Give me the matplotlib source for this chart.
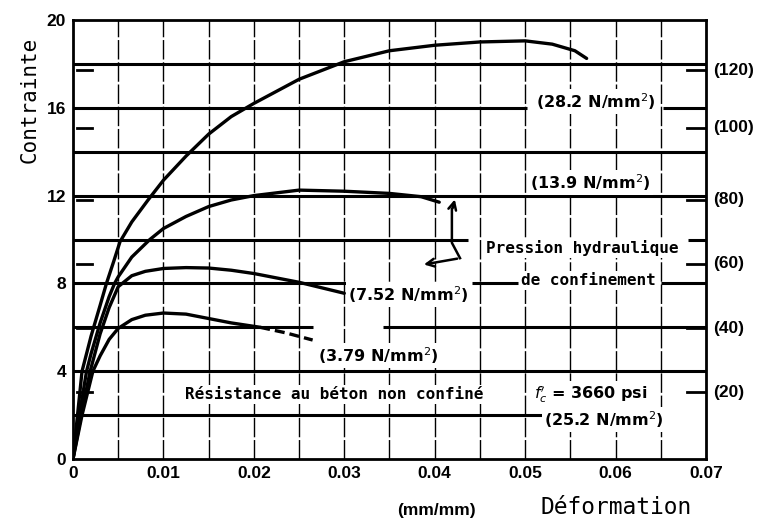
import matplotlib
matplotlib.use("Agg")
import matplotlib.pyplot as plt
from matplotlib.transforms import blended_transform_factory

# ---------------- data ----------------
strain_a = [0, 0.0005, 0.001, 0.002, 0.003, 0.0037, 0.0045, 0.0052, 0.0065, 0.0083,
            0.01, 0.0125, 0.015, 0.0175, 0.02, 0.025, 0.03, 0.035, 0.04, 0.045,
            0.05, 0.053, 0.0555, 0.0568]
stress_a = [0, 2.0, 4.0, 5.6, 7.0, 8.0, 9.0, 9.9, 10.8, 11.8,
            12.7, 13.8, 14.8, 15.6, 16.2, 17.3, 18.1, 18.6, 18.85, 19.0,
            19.05, 18.9, 18.6, 18.25]

strain_b = [0, 0.0007, 0.0015, 0.002, 0.003, 0.004, 0.0046, 0.005, 0.0065, 0.0085,
            0.01, 0.0125, 0.015, 0.0175, 0.02, 0.025, 0.03, 0.035, 0.0385, 0.0405]
stress_b = [0, 2.0, 4.0, 4.8, 6.2, 7.4, 8.0, 8.3, 9.2, 10.0,
            10.5, 11.05, 11.5, 11.8, 12.0, 12.25, 12.2, 12.1, 11.95, 11.7]

strain_c = [0, 0.001, 0.0019, 0.003, 0.004, 0.005, 0.0065, 0.008, 0.01, 0.0125,
            0.015, 0.0175, 0.02, 0.025, 0.03]
stress_c = [0, 2.2, 4.0, 5.7, 6.9, 7.85, 8.35, 8.55, 8.68, 8.72,
            8.7, 8.6, 8.45, 8.05, 7.55]

strain_d = [0, 0.001, 0.0022, 0.003, 0.004, 0.005, 0.0065, 0.008, 0.01, 0.0125,
            0.015, 0.0175, 0.0207]
stress_d = [0, 2.0, 4.0, 4.7, 5.45, 5.95, 6.35, 6.55, 6.65, 6.6,
            6.4, 6.2, 6.0]
strain_d_dash = [0.0207, 0.0235, 0.0265]
stress_d_dash = [6.0, 5.75, 5.42]

x_ticks = [0, 0.01, 0.02, 0.03, 0.04, 0.05, 0.06, 0.07]
x_tick_labels = ["0", "0.01", "0.02", "0.03", "0.04", "0.05", "0.06", "0.07"]
y_ticks = [0, 4, 8, 12, 16, 20]
y_tick_labels = ["0", "4", "8", "12", "16", "20"]
right_tick_pos = [3.05, 5.95, 8.9, 11.8, 15.1, 17.7]
right_tick_labels = ["(20)", "(40)", "(60)", "(80)", "(100)", "(120)"]

# horizontal reference lines (y, x start, x end)
hline_segments = [
    (2, 0.0, 0.0546),
    (4, 0.0, 0.07),
    (6, 0.0, 0.0265), (6, 0.0343, 0.07),
    (8, 0.0, 0.0302), (8, 0.0441, 0.0492), (8, 0.065, 0.07),
    (10, 0.0, 0.0437), (10, 0.068, 0.07),
    (12, 0.0, 0.07),
    (14, 0.0, 0.07),
    (16, 0.0, 0.0502), (16, 0.0652, 0.07),
    (18, 0.0, 0.07),
]
vline_x = [0.005, 0.01, 0.015, 0.02, 0.025, 0.03, 0.035, 0.04, 0.045, 0.05,
           0.055, 0.06, 0.065]

# ---------------- figure ----------------
fig = plt.figure(figsize=(7.62, 5.28), dpi=100)
ax = fig.add_axes([0.0958, 0.1307, 0.8307, 0.8314])
ax.set_xlim(0, 0.07)
ax.set_ylim(0, 20)

for s in ax.spines.values():
    s.set_linewidth(2.0)
    s.set_color("black")

# grid
for xv in vline_x:
    ax.axvline(xv, color="black", lw=1.0, ls=(0, (14, 2)), zorder=1)
for (yv, x0, x1) in hline_segments:
    ax.hlines(yv, x0, x1, color="black", lw=2.2, zorder=2)

# inner ticks on both sides
tr = blended_transform_factory(ax.transAxes, ax.transData)
for yv in right_tick_pos:
    ax.plot([0.006, 0.03], [yv, yv], color="black", lw=2.0, transform=tr, zorder=2)
    ax.plot([0.97, 1.0], [yv, yv], color="black", lw=2.0, transform=tr, zorder=2)
for yv, lab in zip(right_tick_pos, right_tick_labels):
    ax.text(1.012, yv, lab, transform=tr, ha="left", va="center",
            fontsize=12.5, fontweight="bold", family="Liberation Sans")

# curves
for xs, ys in [(strain_a, stress_a), (strain_b, stress_b),
               (strain_c, stress_c), (strain_d, stress_d)]:
    ax.plot(xs, ys, color="black", lw=2.4, solid_capstyle="round", zorder=3)
ax.plot(strain_d_dash, stress_d_dash, color="black", lw=2.4, ls=(0, (3, 1.5)), zorder=3)

# ticks
ax.set_xticks(x_ticks)
ax.set_xticklabels(x_tick_labels, fontsize=12.5, fontweight="bold", family="Liberation Sans")
ax.set_yticks(y_ticks)
ax.set_yticklabels(y_tick_labels, fontsize=12.5, fontweight="bold", family="Liberation Sans")
ax.tick_params(length=0, pad=5)

# annotations
bbox_w = dict(facecolor="white", edgecolor="none", pad=1.5)
lab_kw = dict(fontsize=11.5, fontweight="bold", family="DejaVu Sans", zorder=5)
mono_kw = dict(fontsize=11.5, fontweight="bold", family="DejaVu Sans Mono", zorder=5)

ax.text(0.0578, 16.3, "(28.2 N/mm$^2$)", ha="center", va="center", bbox=bbox_w, **lab_kw)
ax.text(0.0572, 12.6, "(13.9 N/mm$^2$)", ha="center", va="center", bbox=bbox_w, **lab_kw)
ax.text(0.0563, 9.6, "Pression hydraulique", ha="center", va="center", bbox=bbox_w, **mono_kw)
ax.text(0.0570, 8.12, "de confinement", ha="center", va="center", bbox=bbox_w, **mono_kw)
ax.text(0.0371, 7.5, "(7.52 N/mm$^2$)", ha="center", va="center", bbox=bbox_w, **lab_kw)
ax.text(0.0338, 4.72, "(3.79 N/mm$^2$)", ha="center", va="center", bbox=bbox_w, **lab_kw)
ax.text(0.0289, 2.95, "Résistance au béton non confiné", ha="center", va="center",
        bbox=bbox_w, **mono_kw)
ax.text(0.0572, 2.95, "$f_c'$ = 3660 psi", ha="center", va="center", bbox=bbox_w, **lab_kw)
ax.text(0.0587, 1.78, "(25.2 N/mm$^2$)", ha="center", va="center", bbox=bbox_w, **lab_kw)

# bracket arrows for "Pression hydraulique de confinement"
ax.plot([0.0428, 0.0419, 0.0419], [9.15, 9.85, 11.4], color="black", lw=1.8, zorder=4)
ax.annotate("", xy=(0.0423, 11.95), xytext=(0.0419, 11.3),
            arrowprops=dict(arrowstyle="->", lw=1.8, color="black", mutation_scale=14), zorder=4)
ax.annotate("", xy=(0.0385, 8.84), xytext=(0.0428, 9.15),
            arrowprops=dict(arrowstyle="->", lw=1.8, color="black", mutation_scale=14), zorder=4)

# axis titles
fig.text(30 / 762, 1 - 100 / 528, "Contrainte", rotation=90, ha="center", va="center",
         fontsize=15, family="DejaVu Sans Mono")
fig.text(616 / 762, 1 - 508 / 528, "Déformation", ha="center", va="center",
         fontsize=16.5, family="DejaVu Sans Mono")
fig.text(436 / 762, 1 - 511 / 528, "(mm/mm)", ha="center", va="center",
         fontsize=12.5, fontweight="bold", family="Liberation Sans")

fig.savefig("out.png", dpi=100)
